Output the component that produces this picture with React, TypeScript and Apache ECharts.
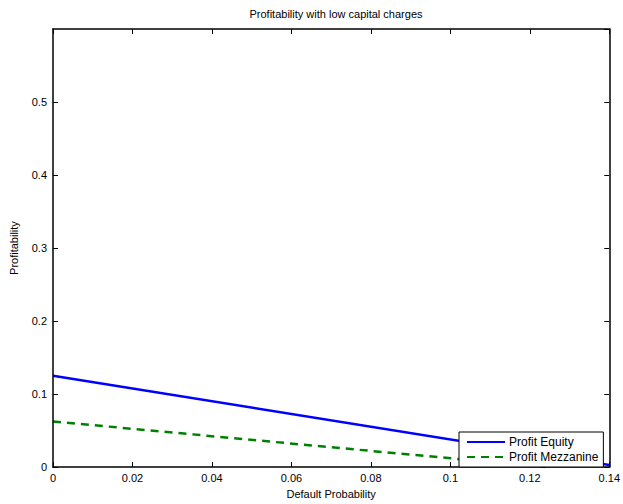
import React, { useEffect, useRef } from "react";
import * as echarts from "echarts";

const equityX = [0, 0.14];
const equityY = [0.125, 0.003];
const mezzX = [0, 0.124];
const mezzY = [0.0625, 0];
const seriesNames = ["Profit Equity", "Profit Mezzanine"];

const FONT = "Liberation Sans, Arial, Helvetica, sans-serif";

export default function App() {
  const ref = useRef<HTMLDivElement>(null);
  useEffect(() => {
    if (!ref.current) return;
    const chart = echarts.init(ref.current, null, { renderer: "svg" });
    const axisCommon = {
      axisLine: { show: true, onZero: false, lineStyle: { color: "#000", width: 1.5 } },
      axisTick: { show: true, inside: true, length: 5, lineStyle: { color: "#000" } },
      splitLine: { show: false },
      z: 10,
    };
    chart.setOption({
      animation: false,
      backgroundColor: "#fff",
      textStyle: { fontFamily: FONT },
      title: {
        text: "Profitability with low capital charges",
        left: 331,
        top: 3,
        textAlign: "center",
        textStyle: { fontSize: 11, fontWeight: "normal", color: "#000", fontFamily: FONT },
      },
      grid: { left: 50, right: 11, top: 29, bottom: 31 },
      xAxis: [
        {
          type: "value",
          min: 0,
          max: 0.14,
          interval: 0.02,
          name: "Default Probability",
          nameLocation: "middle",
          nameGap: 17,
          nameTextStyle: { fontSize: 11, color: "#000", fontFamily: FONT },
          ...axisCommon,
          axisLabel: {
            fontSize: 11,
            color: "#000",
            margin: 5,
            fontFamily: FONT,
            formatter: (v: number) => String(parseFloat(v.toFixed(2))),
          },
        },
        {
          type: "value",
          position: "top",
          min: 0,
          max: 0.14,
          interval: 0.02,
          ...axisCommon,
          axisLabel: { show: false },
        },
      ],
      yAxis: [
        {
          type: "value",
          min: 0,
          max: 0.6,
          interval: 0.1,
          name: "Profitability",
          nameLocation: "middle",
          nameGap: 34,
          nameRotate: 90,
          nameTextStyle: { fontSize: 11, color: "#000", fontFamily: FONT },
          ...axisCommon,
          axisLabel: {
            fontSize: 11,
            color: "#000",
            margin: 6,
            fontFamily: FONT,
            showMaxLabel: false,
            formatter: (v: number) => String(parseFloat(v.toFixed(1))),
          },
        },
        {
          type: "value",
          position: "right",
          min: 0,
          max: 0.6,
          interval: 0.1,
          ...axisCommon,
          axisLabel: { show: false },
        },
      ],
      legend: {
        orient: "vertical",
        left: 459,
        top: 432,
        data: seriesNames,
        backgroundColor: "#fff",
        borderColor: "#000",
        borderWidth: 1,
        borderRadius: 0,
        padding: [4, 5, 4, 7],
        itemGap: 3,
        itemWidth: 38,
        itemHeight: 12,
        itemStyle: { opacity: 0 },
        textStyle: { fontSize: 12, color: "#000", fontFamily: FONT, padding: [0, 0, 0, -1] },
        z: 20,
      },
      series: [
        {
          name: seriesNames[0],
          type: "line",
          symbol: "none",
          data: equityX.map((x, i) => [x, equityY[i]]),
          lineStyle: { color: "#0000ff", width: 2.5 },
          itemStyle: { color: "#0000ff" },
          z: 3,
        },
        {
          name: seriesNames[1],
          type: "line",
          symbol: "none",
          data: mezzX.map((x, i) => [x, mezzY[i]]),
          lineStyle: { color: "#008000", width: 2.5, type: [8, 6] },
          itemStyle: { color: "#008000" },
          z: 2,
        },
      ],
    });
    return () => chart.dispose();
  }, []);
  return <div ref={ref} style={{ width: 623, height: 504, position: "absolute", left: 0, top: 0 }} />;
}
